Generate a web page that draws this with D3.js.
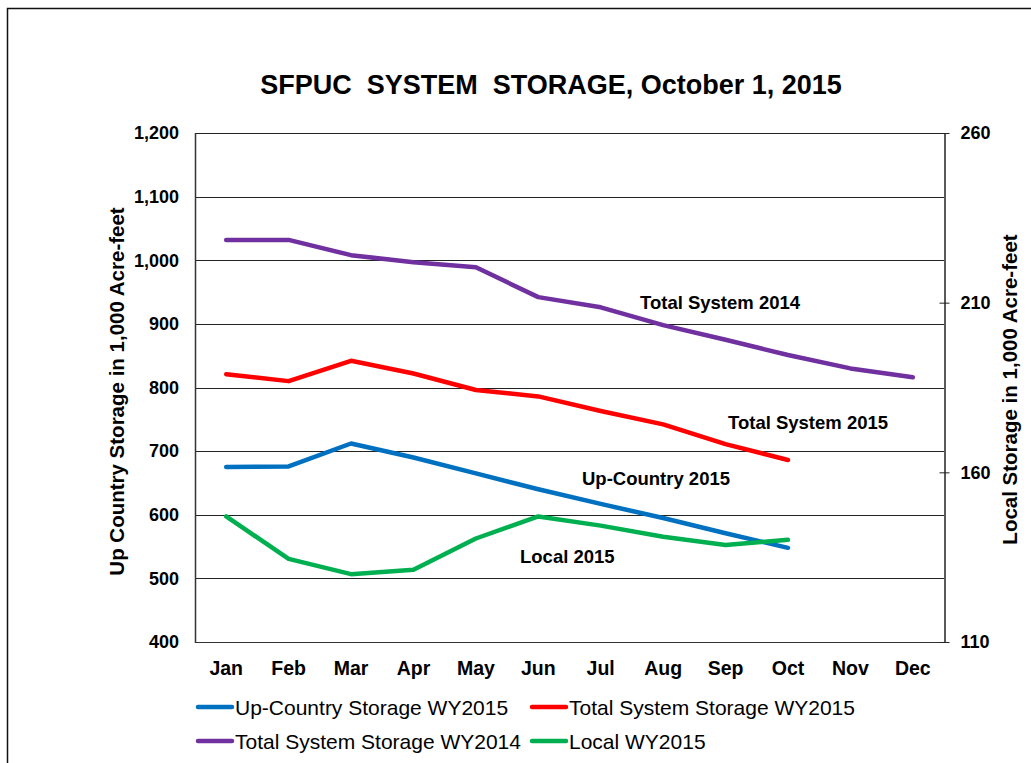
<!DOCTYPE html>
<html>
<head>
<meta charset="utf-8">
<script src="https://cdn.jsdelivr.net/npm/d3@7"></script>
<style>
  body { margin: 0; background: #fff; }
  svg { font-family: "Liberation Sans", Arial, sans-serif; }
</style>
</head>
<body>
<div id="chart"></div>
<script>
// data
const months = ["Jan", "Feb", "Mar", "Apr", "May", "Jun", "Jul", "Aug", "Sep", "Oct", "Nov", "Dec"];
const upCountry2015 = [675, 676, 712, 690, 665, 640, 617, 595, 571, 548];
const totalSystem2015 = [821, 810, 842, 822, 796, 786, 763, 742, 711, 686];
const totalSystem2014 = [1032, 1032, 1008, 997, 989, 942, 926, 898, 875, 851, 830, 816];
const local2015 = [147, 134.5, 130, 131.3, 140.5, 147, 144.3, 141, 138.6, 140.1];
const leftTicks = [400, 500, 600, 700, 800, 900, 1000, 1100, 1200];
const rightTicks = [110, 160, 210, 260];

const width = 1031;
const height = 763;
const m = { left: 195, right: 944, top: 133, bottom: 642 };

const svg = d3.select("#chart")
    .append("svg")
    .attr("width", width)
    .attr("height", height);

// outer frame (only top and left edges show in the picture)
svg.append("path")
   .attr("d", "M7.5," + height + "V8.5H" + width)
   .attr("fill", "none")
   .attr("stroke", "#111")
   .attr("stroke-width", 1.5);

const x = d3.scaleBand().domain(months).range([m.left, m.right]);
const yLeft = d3.scaleLinear().domain([400, 1200]).range([m.bottom, m.top]);
const yRight = d3.scaleLinear().domain([110, 260]).range([m.bottom, m.top]);

// gridlines
svg.append("g")
   .selectAll("line")
   .data(leftTicks)
   .enter()
   .append("line")
   .attr("x1", m.left).attr("x2", m.right)
   .attr("y1", d => Math.round(yLeft(d)) + 0.5)
   .attr("y2", d => Math.round(yLeft(d)) + 0.5)
   .attr("stroke", d => (d === 400 ? "#333" : "#222"))
   .attr("stroke-width", 1);

// left axis line
svg.append("line")
   .attr("x1", m.left + 0.5).attr("x2", m.left + 0.5)
   .attr("y1", m.top).attr("y2", m.bottom + 1)
   .attr("stroke", "#333").attr("stroke-width", 1.5);

// left tick labels
const yAxisL = d3.axisLeft(yLeft).tickValues(leftTicks).tickSize(0).tickPadding(16)
    .tickFormat(d3.format(","));
svg.append("g")
   .attr("transform", "translate(" + m.left + ",0)")
   .call(yAxisL)
   .call(g => g.select(".domain").remove())
   .selectAll("text")
   .attr("font-family", "Liberation Sans, Arial, sans-serif")
   .attr("font-size", "18px")
   .attr("font-weight", "bold")
   .attr("fill", "#000");

// right axis
const yAxisR = d3.axisRight(yRight).tickValues(rightTicks).tickSizeInner(5).tickSizeOuter(0).tickPadding(11);
const gr = svg.append("g")
   .attr("transform", "translate(" + (m.right + 0.5) + ",0)")
   .call(yAxisR);
gr.select(".domain").attr("stroke", "#222").attr("stroke-width", 1.5);
gr.selectAll(".tick line").attr("x1", -5).attr("x2", 5).attr("stroke", "#222");
gr.selectAll("text")
  .attr("font-family", "Liberation Sans, Arial, sans-serif")
  .attr("font-size", "18px")
  .attr("font-weight", "bold")
  .attr("fill", "#000");

// month labels
const xAxis = d3.axisBottom(x).tickSize(0).tickPadding(19);
svg.append("g")
   .attr("transform", "translate(0," + m.bottom + ")")
   .call(xAxis)
   .call(g => g.select(".domain").remove())
   .selectAll("text")
   .attr("font-family", "Liberation Sans, Arial, sans-serif")
   .attr("font-size", "19.5px")
   .attr("font-weight", "bold")
   .attr("fill", "#000");

// title
svg.append("text")
   .attr("x", 551).attr("y", 94)
   .attr("text-anchor", "middle")
   .attr("font-size", "27px")
   .attr("font-weight", "bold")
   .attr("xml:space", "preserve")
   .text("SFPUC  SYSTEM  STORAGE, October 1, 2015");

// axis titles
svg.append("text")
   .attr("transform", "translate(124," + ((m.top + m.bottom) / 2 + 4) + ") rotate(-90)")
   .attr("text-anchor", "middle")
   .attr("font-size", "20.5px")
   .attr("font-weight", "bold")
   .text("Up Country Storage in 1,000 Acre-feet");

svg.append("text")
   .attr("transform", "translate(1017," + ((m.top + m.bottom) / 2 + 2) + ") rotate(-90)")
   .attr("text-anchor", "middle")
   .attr("font-size", "20.5px")
   .attr("font-weight", "bold")
   .text("Local Storage in 1,000 Acre-feet");

// series
const series = [
  { name: "Up-Country Storage WY2015", values: upCountry2015, y: yLeft, color: "#0070C0" },
  { name: "Total System Storage WY2015", values: totalSystem2015, y: yLeft, color: "#FF0000" },
  { name: "Total System Storage WY2014", values: totalSystem2014, y: yLeft, color: "#7030A0" },
  { name: "Local WY2015", values: local2015, y: yRight, color: "#00B050" }
];

const cx = i => x(months[i]) + x.bandwidth() / 2;

series.forEach(s => {
  const line = d3.line()
      .x((d, i) => cx(i))
      .y(d => s.y(d));
  svg.append("path")
     .datum(s.values)
     .attr("d", line)
     .attr("fill", "none")
     .attr("stroke", s.color)
     .attr("stroke-width", 4.5)
     .attr("stroke-linejoin", "round")
     .attr("stroke-linecap", "round");
});

// in-plot labels
const labels = [
  { text: "Total System 2014", x: 640, y: 309 },
  { text: "Total System 2015", x: 728, y: 429 },
  { text: "Up-Country 2015", x: 582, y: 485 },
  { text: "Local 2015", x: 520, y: 563 }
];
svg.selectAll(".lbl")
   .data(labels)
   .enter()
   .append("text")
   .attr("class", "lbl")
   .attr("x", d => d.x).attr("y", d => d.y)
   .attr("font-size", "18.5px")
   .attr("font-weight", "bold")
   .text(d => d.text);

// legend
const legendPos = [
  { x: 198, y: 707 }, { x: 532, y: 707 },
  { x: 198, y: 741 }, { x: 532, y: 741 }
];
series.forEach((s, i) => {
  const p = legendPos[i];
  svg.append("line")
     .attr("x1", p.x).attr("x2", p.x + 34)
     .attr("y1", p.y).attr("y2", p.y)
     .attr("stroke", s.color)
     .attr("stroke-width", 4.5)
     .attr("stroke-linecap", "round");
  svg.append("text")
     .attr("x", p.x + 37).attr("y", p.y + 8)
     .attr("font-size", "21px")
     .attr("fill", "#000")
     .text(s.name);
});
</script>
</body>
</html>
